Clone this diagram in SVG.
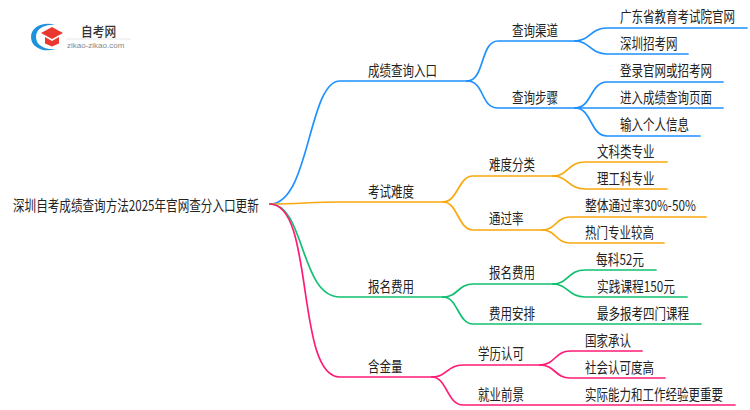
<svg xmlns="http://www.w3.org/2000/svg" width="750" height="410" viewBox="0 0 750 410">
<style>
text{font-family:"Noto Sans CJK SC","Noto Sans",sans-serif;font-size:15px;fill:#222;}
.c path{fill:none;stroke-width:1.7;stroke-linecap:round;}
.b path{stroke:#1e90ff}.o path{stroke:#f9a80f}.g path{stroke:#10c070}.p path{stroke:#ff1a75}
</style>
<g id="logo">
<path d="M56,25C44,21 31,26 31,37C31,48 44,53 56,49C46,50 36,46 36,37C36,28 46,24 56,25Z" fill="#1e93dc"/>
<path d="M52,27L63,33L52,39L41,33Z" fill="#e8382f"/>
<path d="M45,37L52,41L59,37V43.500L52,46.500L45,43.500Z" fill="#e8382f"/>
<rect x="66" y="38.500" width="65" height="1" fill="#e8e8e8"/>
<text transform="matrix(.9 0 0 1 81 35.500)" style="font-size:13px;font-weight:500;fill:#333">自考网</text>
<text transform="translate(67 48)" style="font-size:8px;fill:#888;font-family:'Liberation Sans',sans-serif">zikao-zikao.com</text>
</g>
<g id="connectors" class="c">
<g class="b">
<path d="M270,204C310,204 308,81 340,81H467"/>
<path d="M467,81C485,81 480,41 498,41H575"/>
<path d="M467,81C485,81 480,108 498,108H575"/>
<path d="M575,41C590,41 590,28 607,28H747"/>
<path d="M575,41C590,41 590,54 607,54H688"/>
<path d="M575,108C592,108 590,82 607,82H723"/>
<path d="M575,108C592,108 590,108 607,108H723"/>
<path d="M575,108C592,108 590,136 607,136H700"/>
</g>
<g class="o">
<path d="M270,204C300,204 310,202 340,202H443"/>
<path d="M443,202C458,202 458,176 473,176H553"/>
<path d="M443,202C458,202 458,230 473,230H542"/>
<path d="M553,176C568,176 568,162 585,162H667"/>
<path d="M553,176C568,176 568,189 585,189H667"/>
<path d="M542,230C556,230 556,217 570,217H706"/>
<path d="M542,230C556,230 556,243 570,243H664"/>
</g>
<g class="g">
<path d="M270,204C305,204 300,297 340,297H443"/>
<path d="M443,297C458,297 458,284 473,284H553"/>
<path d="M443,297C458,297 458,324 473,324H701"/>
<path d="M553,284C568,284 568,270 585,270H656"/>
<path d="M553,284C568,284 568,297 585,297H687"/>
</g>
<g class="p">
<path d="M270,204C315,204 295,377 340,377H432"/>
<path d="M432,377C447,377 447,365 463,365H540"/>
<path d="M432,377C447,377 447,405 463,405H735"/>
<path d="M540,365C555,365 555,351 570,351H642"/>
<path d="M540,365C555,365 555,378 570,378H665"/>
</g>
</g>
<g id="root"><text transform="matrix(.773 0 0 1 13 211)">深圳自考成绩查询方法2025年官网查分入口更新</text></g>
<g id="n1"><text transform="matrix(.767 0 0 1 368 76)">成绩查询入口</text></g>
<g id="n11"><text transform="matrix(.767 0 0 1 512 36)">查询渠道</text></g>
<g id="n111"><text transform="matrix(.767 0 0 1 620 22)">广东省教育考试院官网</text></g>
<g id="n112"><text transform="matrix(.767 0 0 1 620 49)">深圳招考网</text></g>
<g id="n12"><text transform="matrix(.767 0 0 1 512 103)">查询步骤</text></g>
<g id="n121"><text transform="matrix(.767 0 0 1 620 76)">登录官网或招考网</text></g>
<g id="n122"><text transform="matrix(.767 0 0 1 620 103)">进入成绩查询页面</text></g>
<g id="n123"><text transform="matrix(.767 0 0 1 620 130)">输入个人信息</text></g>
<g id="n2"><text transform="matrix(.767 0 0 1 368 197)">考试难度</text></g>
<g id="n21"><text transform="matrix(.767 0 0 1 489 170)">难度分类</text></g>
<g id="n211"><text transform="matrix(.767 0 0 1 597 157)">文科类专业</text></g>
<g id="n212"><text transform="matrix(.767 0 0 1 597 184)">理工科专业</text></g>
<g id="n22"><text transform="matrix(.767 0 0 1 489 224)">通过率</text></g>
<g id="n221"><text transform="matrix(.786 0 0 1 585 211)">整体通过率30%-50%</text></g>
<g id="n222"><text transform="matrix(.767 0 0 1 585 238)">热门专业较高</text></g>
<g id="n3"><text transform="matrix(.767 0 0 1 368 292)">报名费用</text></g>
<g id="n31"><text transform="matrix(.767 0 0 1 489 278)">报名费用</text></g>
<g id="n311"><text transform="matrix(.78 0 0 1 596 265)">每科52元</text></g>
<g id="n312"><text transform="matrix(.78 0 0 1 597 292)">实践课程150元</text></g>
<g id="n32"><text transform="matrix(.767 0 0 1 489 319)">费用安排</text></g>
<g id="n321"><text transform="matrix(.767 0 0 1 597 319)">最多报考四门课程</text></g>
<g id="n4"><text transform="matrix(.767 0 0 1 368 372)">含金量</text></g>
<g id="n41"><text transform="matrix(.767 0 0 1 478 359)">学历认可</text></g>
<g id="n411"><text transform="matrix(.767 0 0 1 585 346)">国家承认</text></g>
<g id="n412"><text transform="matrix(.767 0 0 1 585 373)">社会认可度高</text></g>
<g id="n42"><text transform="matrix(.767 0 0 1 478 400)">就业前景</text></g>
<g id="n421"><text transform="matrix(.767 0 0 1 585 400)">实际能力和工作经验更重要</text></g>
</svg>
